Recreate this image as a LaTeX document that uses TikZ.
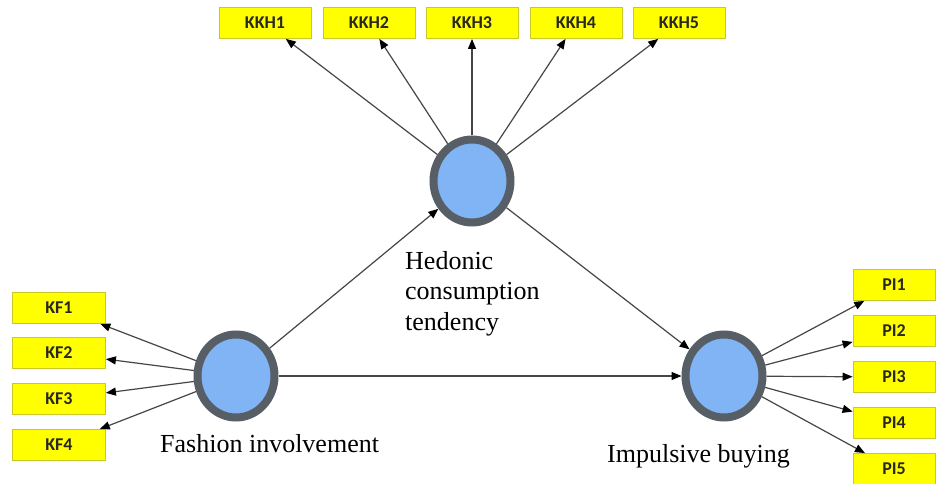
\documentclass[tikz,border=0pt]{standalone}
\usepackage{fontspec}
\setmainfont{Liberation Serif}
\newfontfamily\boxfont{Carlito}
\usetikzlibrary{shapes.geometric,arrows.meta}
\definecolor{boxyellow}{RGB}{255,255,0}
\definecolor{boxedge}{RGB}{200,200,40}
\definecolor{latfill}{RGB}{128,180,245}
\definecolor{latedge}{RGB}{88,94,102}
\definecolor{arrowgray}{RGB}{70,70,70}
\definecolor{boxtext}{RGB}{40,40,30}
\begin{document}
\begin{tikzpicture}[x=1pt,y=-1pt,
  ind/.style={rectangle, fill=boxyellow, draw=boxedge, line width=0.8pt,
    minimum width=92pt, minimum height=31pt, inner sep=0pt, text=boxtext,
    font=\boxfont\bfseries\fontsize{18}{18}\selectfont},
  lat/.style={ellipse, fill=latfill, draw=latedge, line width=8pt,
    minimum width=77pt, minimum height=83pt, inner sep=0pt},
  lnk/.style={draw=arrowgray, line width=1.2pt,
    -{Triangle[length=10pt,width=8pt,color=black]}},
  lbl/.style={inner sep=0pt, font=\fontsize{26}{30.5}\selectfont}]
\useasboundingbox (0,0) rectangle (938,484);
\fill[white] (0,0) rectangle (938,484);

% latent variables
\node[lat] (hed) at (472,181) {};
\node[lat] (fas) at (236,376) {};
\node[lat] (imp) at (724,376) {};

% indicators of hedonic consumption tendency
\node[ind] (kkh1) at (265,23) {KKH1};
\node[ind] (kkh2) at (369,23) {KKH2};
\node[ind] (kkh3) at (472,23) {KKH3};
\node[ind] (kkh4) at (576,23) {KKH4};
\node[ind] (kkh5) at (679,23) {KKH5};

% indicators of fashion involvement
\node[ind, minimum width=93pt] (kf1) at (59,308) {KF1};
\node[ind, minimum width=93pt] (kf2) at (59,353) {KF2};
\node[ind, minimum width=93pt] (kf3) at (59,399) {KF3};
\node[ind, minimum width=93pt] (kf4) at (59,445) {KF4};

% indicators of impulsive buying
\node[ind, minimum width=82pt] (pi1) at (894,285) {PI1};
\node[ind, minimum width=82pt] (pi2) at (894,331) {PI2};
\node[ind, minimum width=82pt] (pi3) at (894,377) {PI3};
\node[ind, minimum width=82pt] (pi4) at (894,423) {PI4};
\node[ind, minimum width=82pt] (pi5) at (894,469) {PI5};

% labels
\node[lbl, align=left, anchor=north west] (hedlbl) at (405,251)
  {Hedonic\\consumption\\tendency};
\node[lbl, anchor=base west] (faslbl) at (160,452) {Fashion involvement};
\node[lbl, anchor=base west] (implbl) at (607,462) {Impulsive buying};

% outer loadings
\foreach \k in {kkh1,kkh2,kkh3,kkh4,kkh5} \draw[lnk] (hed) -- (\k);
\foreach \k in {kf1,kf2,kf3,kf4} \draw[lnk] (fas) -- (\k);
\foreach \k in {pi1,pi2,pi3,pi4,pi5} \draw[lnk] (imp) -- (\k);

% structural paths
\draw[lnk] (fas) -- (hed);
\draw[lnk] (hed) -- (imp);
\draw[lnk] (fas) -- (imp);
\end{tikzpicture}
\end{document}
